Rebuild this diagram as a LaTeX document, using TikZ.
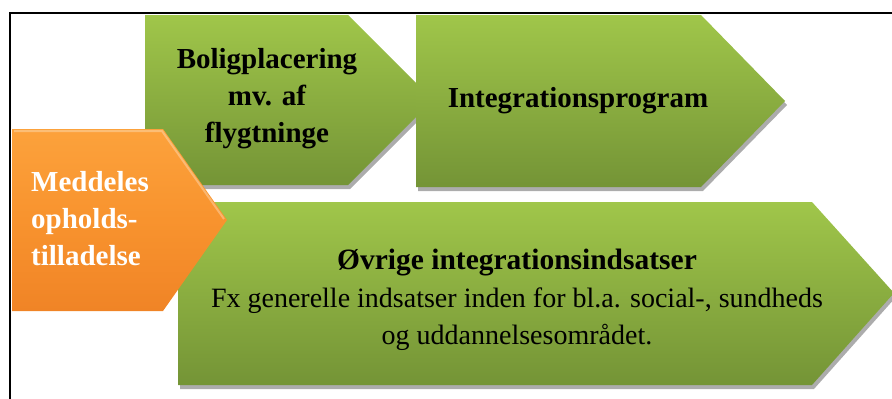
\documentclass[tikz,border=0pt]{standalone}
\usepackage{fontspec}
\setmainfont{Liberation Serif}
\definecolor{grtop}{RGB}{160,198,74}
\definecolor{grbot}{RGB}{116,148,54}
\definecolor{ortop}{RGB}{252,162,60}
\definecolor{ormid}{RGB}{248,147,46}
\definecolor{orbot}{RGB}{240,132,38}
\definecolor{shadowgray}{RGB}{172,172,172}
\tikzset{
  greenarrow/.style={top color=grtop, bottom color=grbot, draw=none},
  orangearrow/.style={top color=ortop, bottom color=orbot, middle color=ormid, draw=none},
  shadowpath/.style={fill=shadowgray, draw=none},
  framerule/.style={line width=2pt, draw=black},
  lbl/.style={font=\bfseries\fontsize{29}{37}\selectfont, align=center, text=black, inner sep=0pt},
  bodytext/.style={font=\fontsize{28}{37.5}\selectfont, align=center, text=black, inner sep=0pt},
}
\begin{document}
\begin{tikzpicture}[x=1pt,y=-1pt]
\useasboundingbox (0,0) rectangle (892,399);
% frame lines
\coordinate (tl) at (9,13);
\coordinate (tr) at (892,13);
\coordinate (vt) at (10,12);
\coordinate (vb) at (10,399);
\draw[framerule] (tl) -- (tr);
\draw[framerule] (vt) -- (vb);
% Boligplacering arrow
\path[shadowpath, shift={(2,4)}] (145,15) -- (348,15) -- (433,100) -- (348,185) -- (145,185) -- cycle;
\path[greenarrow] (145,15) -- (348,15) -- (433,100) -- (348,185) -- (145,185) -- cycle;
% Integrationsprogram arrow
\path[shadowpath, shift={(2,4)}] (416,15) -- (701,15) -- (785,101) -- (701,187) -- (416,187) -- cycle;
\path[greenarrow] (416,15) -- (701,15) -- (785,101) -- (701,187) -- (416,187) -- cycle;
% Ovrige arrow
\path[shadowpath, shift={(2,4)}] (178,202) -- (812,202) -- (894,293) -- (812,385) -- (178,385) -- cycle;
\path[greenarrow] (178,202) -- (812,202) -- (894,293) -- (812,385) -- (178,385) -- cycle;
% Orange arrow
\path[orangearrow] (12,129) -- (163,129) -- (227,220) -- (163,311) -- (12,311) -- cycle;
\draw[white, opacity=0.3, line width=2pt] (14,131) -- (162,131) -- (224,219);
% texts
\node[lbl] (bolig) at (267,99) {Boligplacering\\mv. af\\flygtninge};
\node[lbl] (integ) at (578,101) {Integrationsprogram};
\node[lbl, text=white, align=left, anchor=west] (medd) at (31,219) {Meddeles\\opholds-\\tilladelse};
\node[bodytext] (ovr) at (517,300) {{\bfseries\fontsize{29.5}{37.5}\selectfont Øvrige integrationsindsatser}\\Fx generelle indsatser inden for bl.a. social-, sundheds\\og uddannelsesområdet.};
\end{tikzpicture}
\end{document}
